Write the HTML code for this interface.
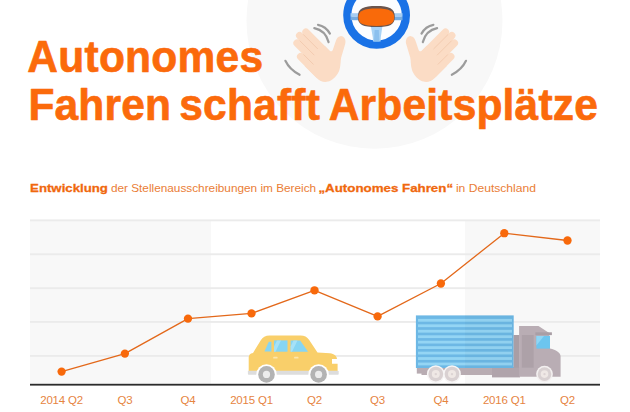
<!DOCTYPE html>
<html lang="de">
<head>
<meta charset="utf-8">
<title>Autonomes Fahren schafft Arbeitsplätze</title>
<style>
  html, body { margin: 0; padding: 0; background: #ffffff; }
  body { width: 630px; height: 412px; overflow: hidden; position: relative;
         font-family: "Liberation Sans", sans-serif; }
  svg { position: absolute; left: 0; top: 0; display: block; }
  .title { font-family: "Liberation Sans", sans-serif; font-weight: bold; font-size: 45.2px; fill: #fb6a0b; stroke: #fb6a0b; stroke-width: 0.7px; stroke-linejoin: round; }
  .sub { font-family: "Liberation Sans", sans-serif; font-size: 11.8px; fill: #ea7d36; }
  .sub.b { font-weight: bold; fill: #f0680e; stroke: #f0680e; stroke-width: 0.3px; }
  .ax { font-family: "Liberation Sans", sans-serif; font-size: 11.5px; letter-spacing: -0.2px; fill: #e6843f; text-anchor: middle; }
</style>
</head>
<body>
<svg width="630" height="412" viewBox="0 0 630 412">
  <!-- background circle -->
  <circle cx="374.5" cy="20.8" r="128" fill="#f8f8f8"/>

  <!-- steering wheel -->
  <g id="wheel">
    <circle cx="376.6" cy="15.3" r="29.3" fill="#fcfdff" stroke="#1a72e6" stroke-width="8.2"/>
    <rect x="350.5" y="13.2" width="52" height="3.6" fill="#a6cdf2"/>
    <rect x="350.5" y="16.8" width="52" height="3.4" fill="#78acdf"/>
    <polygon points="370.6,25 382.6,25 380.8,37.2 380.6,41.5 373,41.5 372.8,37.2" fill="#a9d3f6"/>
    <polygon points="374.6,30 378.8,30 379.4,41.5 374,41.5" fill="#8cc0ee"/>
    <path d="M357.8,17 C357.8,8.2 363.5,6 376.4,6 C389.3,6 394.8,8.2 394.8,17 C394.8,24.8 389.8,27 376.4,27 C362.8,27 357.8,24.8 357.8,17 Z" fill="#6b5650"/>
    <path d="M358.4,17.6 C358.4,10.6 364,8.6 376.4,8.6 C388.8,8.6 394.2,10.6 394.2,17.6 C394.2,24 389.4,25.9 376.4,25.9 C363.2,25.9 358.4,24 358.4,17.6 Z" fill="#f96a0a"/>
  </g>

  <defs>
    <g id="hand">
      <g transform="rotate(-45) translate(169,234)">
        <rect x="-0.2" y="15" width="7.4" height="32" rx="3.7" fill="#fbdcc5"/>
        <rect x="6.9" y="2.8" width="7.4" height="42" rx="3.7" fill="#fbdcc5"/>
        <rect x="14" y="-0.6" width="7.3" height="42" rx="3.65" fill="#fbdcc5"/>
        <rect x="21" y="1.4" width="7.2" height="42" rx="3.6" fill="#fbdcc5"/>
        <path d="M-0.2,28 L-0.2,45 C-0.1,50.5 2.3,55 8,56.8 C13,58 18.5,57.2 22,55.2 C26,53 28.5,50 31.4,48 L44,41.2 C47.6,39.3 49,34.6 46.2,32.3 C44.2,30.8 41.8,31.2 39.6,32.4 L31,36.6 C29.4,37.3 28.2,36.4 28.2,34.5 L28.2,28 Z" fill="#fbdcc5"/>
        <path d="M7.1,19.5 L7.1,33 M14.2,7 L14.2,27 M21.1,5 L21.1,25" fill="none" stroke="#f2c9ae" stroke-width="0.9" stroke-linecap="round"/>
      </g>
      <path d="M318,24.8 Q325.8,26.2 329.9,33.6" fill="none" stroke="#9c9c9c" stroke-width="2.2" stroke-linecap="round"/>
      <path d="M314.3,28.2 Q325.5,30.5 328.6,42.1" fill="none" stroke="#9c9c9c" stroke-width="2.2" stroke-linecap="round"/>
      <path d="M285.4,60.8 Q289.5,69.5 299.6,74.8" fill="none" stroke="#9c9c9c" stroke-width="2.2" stroke-linecap="round"/>
    </g>
  </defs>
  <!-- left hand -->
  <use href="#hand"/>
  <!-- right hand (mirror) -->
  <use href="#hand" transform="translate(751.4,0) scale(-1,1)"/>

  <!-- title -->
  <g transform="translate(27.3,0) scale(0.94,1)">
    <text class="title" x="0" y="71.9" textLength="250.9" lengthAdjust="spacing">Autonomes</text>
  </g>
  <g transform="translate(28.4,0) scale(0.94,1)">
    <text class="title" y="119.9"><tspan id="w1" x="0" textLength="151.7" lengthAdjust="spacing">Fahren</tspan> <tspan id="w2" x="160.5" textLength="149.6" lengthAdjust="spacing">schafft</tspan> <tspan id="w3" x="319.5" textLength="286.3" lengthAdjust="spacing">Arbeitsplätze</tspan></text>
  </g>

  <!-- subtitle -->
  <text class="sub b" x="30.1" y="191.5" textLength="77.8" lengthAdjust="spacingAndGlyphs">Entwicklung</text>
  <text class="sub" x="110.9" y="191.5" textLength="205.3" lengthAdjust="spacingAndGlyphs">der Stellenausschreibungen im Bereich</text>
  <text class="sub b" x="318.4" y="191.5" textLength="134.7" lengthAdjust="spacingAndGlyphs">„Autonomes Fahren“</text>
  <text class="sub" x="455.9" y="191.5" textLength="80.1" lengthAdjust="spacingAndGlyphs">in Deutschland</text>

  <!-- chart bands -->
  <rect x="30" y="220" width="181" height="165" fill="#f8f8f8"/>
  <rect x="465" y="220" width="135" height="165" fill="#f8f8f8"/>
  <!-- gridlines -->
  <g fill="#ebebeb">
    <rect x="30" y="219.4" width="570" height="1.9"/>
    <rect x="30" y="253.3" width="570" height="1.9"/>
    <rect x="30" y="287.2" width="570" height="1.9"/>
    <rect x="30" y="321" width="570" height="1.9"/>
    <rect x="30" y="355" width="570" height="1.9"/>
  </g>

  <!-- data line -->
  <polyline fill="none" stroke="#e3681a" stroke-width="1.3" stroke-linejoin="round"
    points="61.6,371.6 124.9,353.6 188,318.6 251.5,313.4 314.5,290.3 377.6,316.4 440.9,283.5 504.3,233.2 567.5,240.5"/>
  <g fill="#f8690b">
    <circle cx="61.6" cy="371.6" r="4.15"/>
    <circle cx="124.9" cy="353.6" r="4.15"/>
    <circle cx="188" cy="318.6" r="4.15"/>
    <circle cx="251.5" cy="313.4" r="4.15"/>
    <circle cx="314.5" cy="290.3" r="4.15"/>
    <circle cx="377.6" cy="316.4" r="4.15"/>
    <circle cx="440.9" cy="283.5" r="4.15"/>
    <circle cx="504.3" cy="233.2" r="4.15"/>
    <circle cx="567.5" cy="240.5" r="4.15"/>
  </g>

  <!-- car placeholder -->
  <g id="car">
    <!-- body -->
    <path d="M248.7,357.5 C248.7,355 250,353.3 253,352.9 L260.8,340.3 C262.6,337 265.5,335.4 269.5,335.4 L300.5,335.4 C304.5,335.4 307,336.8 309.2,340 L317.5,352.6 L330,353.2 C334,353.6 337,356 337,359 L332,359 L332,363.8 L337.6,363.8 L337.6,371.3 L248.7,371.3 Z" fill="#f9cf6a"/>
    <!-- sill -->
    <rect x="247.9" y="370.7" width="90.8" height="4.1" rx="0.8" fill="#dddddd"/>
    <!-- wheel arches -->
    <circle cx="266.5" cy="374.4" r="10.2" fill="#ffffff"/>
    <circle cx="318.6" cy="374.4" r="10.2" fill="#ffffff"/>
    <circle cx="266.5" cy="374.4" r="8.3" fill="#b3b3b3"/>
    <circle cx="318.6" cy="374.4" r="8.3" fill="#b3b3b3"/>
    <circle cx="266.5" cy="374.4" r="3.6" fill="#ececec"/>
    <circle cx="318.6" cy="374.4" r="3.6" fill="#ececec"/>
    <!-- windows -->
    <polygon points="264.4,351.4 268.8,341.8 271.4,341.8 271.4,351.4" fill="#86d5f3"/>
    <rect x="274" y="340.4" width="13.5" height="11.3" fill="#86d5f3"/>
    <polygon points="290.6,340.4 300.2,340.4 308.1,351.7 290.6,351.7" fill="#86d5f3"/>
    <polygon points="277,340.4 281,340.4 275.5,351.7 274,351.7 274,346.5" fill="#a6e1f7"/>
    <polygon points="293.5,340.4 297.5,340.4 292,351.7 290.6,351.7 290.6,346.5" fill="#a6e1f7"/>
    <!-- handles -->
    <rect x="273.2" y="356.8" width="4.4" height="1.8" rx="0.6" fill="#fce6ad"/>
    <rect x="294.1" y="356.8" width="4.4" height="1.8" rx="0.6" fill="#fce6ad"/>
  </g>
  <!-- truck placeholder -->
  <g id="truck">
    <!-- chassis -->
    <rect x="416.8" y="367" width="76" height="6.6" fill="#b8acb2"/>
    <rect x="421.5" y="367" width="71" height="8" fill="#b8acb2"/>
    <rect x="492" y="367" width="28" height="10.4" fill="#b0a4ab"/>
    <!-- container -->
    <rect x="415.9" y="315.4" width="97.8" height="52.6" fill="#6db8e5"/>
    <g fill="#94d5f4"><rect x="418" y="318.90" width="94" height="2.8"/><rect x="418" y="324.36" width="94" height="2.8"/><rect x="418" y="329.82" width="94" height="2.8"/><rect x="418" y="335.28" width="94" height="2.8"/><rect x="418" y="340.74" width="94" height="2.8"/><rect x="418" y="346.20" width="94" height="2.8"/><rect x="418" y="351.66" width="94" height="2.8"/><rect x="418" y="357.12" width="94" height="2.8"/><rect x="418" y="362.58" width="94" height="2.8"/></g>
    <rect x="465" y="315.4" width="48.7" height="52.6" fill="#000" opacity="0.02"/>
    <!-- connector -->
    <rect x="513.6" y="335" width="6" height="32.7" fill="#a99ea5"/>
    <!-- cab -->
    <path d="M519.1,326 L538.5,326 L549.2,333 L550,348.6 C556,350 560.3,352.5 560.6,356 L560.6,376.8 L519.1,376.8 Z" fill="#b9adb4"/>
    <rect x="521.8" y="335" width="11.8" height="32.7" fill="#ada1a8"/>
    <rect x="535.4" y="332.3" width="16.5" height="2.8" fill="#a99ea5"/>
    <rect x="536.4" y="335.9" width="13.6" height="12.7" fill="#6cc5ef"/>
    <polygon points="536.4,335.9 544,335.9 536.4,345.5" fill="#8fd6f5"/>
    <!-- wheels -->
    <circle cx="435.8" cy="374.1" r="8.9" fill="#f7f5f5"/>
    <circle cx="452" cy="374.1" r="8.9" fill="#f7f5f5"/>
    <circle cx="544.5" cy="374.1" r="8.4" fill="#f3f0f0"/>
    <circle cx="435.8" cy="374.1" r="7.4" fill="#d9d1d2"/>
    <circle cx="452" cy="374.1" r="7.4" fill="#d9d1d2"/>
    <circle cx="544.5" cy="374.1" r="6.8" fill="#d9d1d2"/>
    <circle cx="435.8" cy="374.1" r="4" fill="#efe8e5"/>
    <circle cx="452" cy="374.1" r="4" fill="#efe8e5"/>
    <circle cx="544.5" cy="374.1" r="3.8" fill="#efe8e5"/>
    <circle cx="435.8" cy="374.1" r="1.2" fill="#dcd3d3"/>
    <circle cx="452" cy="374.1" r="1.2" fill="#dcd3d3"/>
    <circle cx="544.5" cy="374.1" r="1.2" fill="#dcd3d3"/>
  </g>

  <!-- baseline -->
  <rect x="30" y="383.8" width="570" height="1.8" fill="#2b2b2b"/>

  <!-- axis labels -->
  <text class="ax" x="61.6" y="404.3">2014 Q2</text>
  <text class="ax" x="124.9" y="404.3">Q3</text>
  <text class="ax" x="188" y="404.3">Q4</text>
  <text class="ax" x="251.5" y="404.3">2015 Q1</text>
  <text class="ax" x="314.5" y="404.3">Q2</text>
  <text class="ax" x="377.6" y="404.3">Q3</text>
  <text class="ax" x="440.9" y="404.3">Q4</text>
  <text class="ax" x="504.3" y="404.3">2016 Q1</text>
  <text class="ax" x="567.5" y="404.3">Q2</text>
</svg>
</body>
</html>
